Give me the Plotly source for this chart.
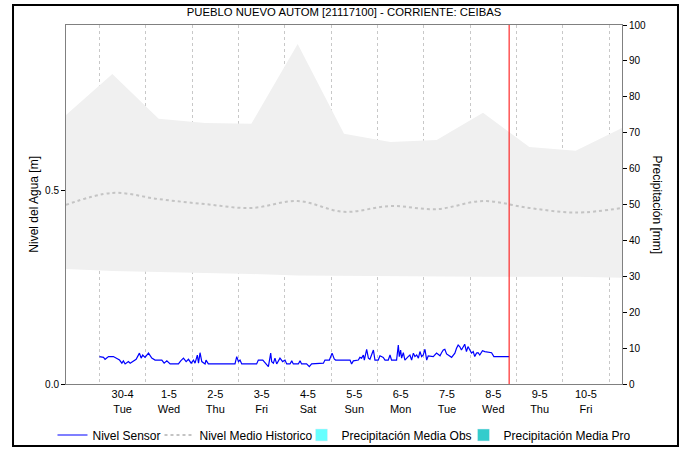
import pandas as pd
import plotly.graph_objects as go

title = "PUEBLO NUEVO AUTOM [21117100] - CORRIENTE: CEIBAS"

# Historical band / mean (daily, 06:40)
hist_dates = pd.date_range("2024-04-29 06:40", "2024-05-11 06:40", freq="D")
hist_max = [0.697, 0.803, 0.687, 0.676, 0.674, 0.881, 0.648, 0.627, 0.632, 0.703, 0.614, 0.604, 0.663]
hist_min = [0.298, 0.293, 0.290, 0.288, 0.285, 0.281, 0.280, 0.279, 0.278, 0.278, 0.278, 0.278, 0.275]
hist_mean = [0.464, 0.495, 0.479, 0.466, 0.456, 0.474, 0.446, 0.461, 0.453, 0.474, 0.456, 0.444, 0.456]

# Sensor level: hours after 2024-04-30 00:00, level in m
sensor_start = pd.Timestamp("2024-04-30 00:00")
sensor_hours = [0.0, 2.1, 2.9, 4.7, 7.2, 9.0, 10.4, 11.6, 12.4, 13.3, 15.0, 15.9, 17.9, 19.0, 20.7,
                21.6, 22.4, 23.6, 25.4, 27.1, 28.8, 32.3, 33.5, 34.9, 36.6, 40.9, 42.1, 43.5, 44.9,
                46.1, 47.5, 48.7, 49.5, 50.7, 51.3, 52.1, 53.0, 54.7, 55.2, 56.4, 70.2, 71.1, 72.0,
                72.8, 73.7, 81.4, 82.3, 84.6, 87.5, 88.7, 89.2, 90.1, 90.9, 91.8, 93.5, 94.9, 96.1,
                97.0, 98.7, 99.6, 100.4, 103.0, 103.9, 104.7, 107.3, 108.7, 109.9, 116.0, 116.8,
                119.1, 120.5, 121.6, 122.3, 129.8, 130.6, 131.5, 134.1, 134.9, 135.8, 136.7, 137.2,
                138.4, 139.3, 140.1, 141.9, 142.7, 144.4, 145.3, 147.0, 147.9, 149.6, 150.5, 151.3,
                153.9, 154.8, 155.3, 156.0, 156.5, 157.4, 158.2, 159.9, 160.8, 161.7, 162.6, 163.4,
                164.3, 165.2, 166.0, 166.9, 167.7, 168.6, 169.5, 170.3, 172.9, 174.6, 176.4, 177.2,
                178.1, 178.9, 179.8, 182.4, 184.1, 184.9, 185.8, 186.6, 187.5, 189.2, 190.1, 190.9,
                192.7, 193.6, 194.4, 195.3, 196.1, 197.0, 198.4, 199.6, 203.1, 204.3, 212.2]
sensor_level = [0.071, 0.069, 0.064, 0.071, 0.071, 0.067, 0.062, 0.054, 0.060, 0.052, 0.058, 0.054, 0.060, 0.064, 0.080,
                0.067, 0.075, 0.069, 0.080, 0.067, 0.062, 0.062, 0.054, 0.060, 0.052, 0.052, 0.060, 0.067, 0.058,
                0.064, 0.054, 0.062, 0.054, 0.075, 0.054, 0.081, 0.058, 0.052, 0.062, 0.052, 0.052, 0.071, 0.058,
                0.062, 0.052, 0.052, 0.062, 0.062, 0.045, 0.080, 0.058, 0.054, 0.067, 0.052, 0.067, 0.058, 0.062,
                0.052, 0.052, 0.060, 0.052, 0.052, 0.060, 0.052, 0.052, 0.045, 0.052, 0.054, 0.062,
                0.062, 0.080, 0.065, 0.062, 0.062, 0.052, 0.060, 0.062, 0.069, 0.067, 0.075, 0.062,
                0.090, 0.067, 0.064, 0.088, 0.062, 0.062, 0.073, 0.069, 0.062, 0.062, 0.075, 0.062,
                0.062, 0.101, 0.071, 0.088, 0.067, 0.081, 0.062, 0.071, 0.075, 0.062, 0.080, 0.071,
                0.075, 0.067, 0.084, 0.071, 0.075, 0.090, 0.062, 0.073, 0.071, 0.080, 0.073, 0.081,
                0.088, 0.090, 0.078, 0.069, 0.080, 0.092, 0.101, 0.097, 0.088, 0.103, 0.084, 0.097,
                0.080, 0.084, 0.071, 0.080, 0.081, 0.075, 0.086, 0.084, 0.081, 0.071, 0.071]
sensor_time = [sensor_start + pd.Timedelta(hours=h) for h in sensor_hours]

current_time = pd.Timestamp("2024-05-08 20:12")
x_range = ["2024-04-29 06:40", "2024-05-11 06:40"]

day_labels = ["30-4", "1-5", "2-5", "3-5", "4-5", "5-5", "6-5", "7-5", "8-5", "9-5", "10-5"]
day_names = ["Tue", "Wed", "Thu", "Fri", "Sat", "Sun", "Mon", "Tue", "Wed", "Thu", "Fri"]
label_pos = pd.date_range("2024-04-30 12:00", periods=len(day_labels), freq="D")
midnights = pd.date_range("2024-04-30 00:00", "2024-05-11 00:00", freq="D")

fig = go.Figure()
fig.add_trace(go.Scatter(x=hist_dates, y=hist_min, mode="lines", line=dict(width=0, color="#f0f0f0"),
                         showlegend=False, hoverinfo="skip"))
fig.add_trace(go.Scatter(x=hist_dates, y=hist_max, mode="lines", line=dict(width=0, color="#f0f0f0"),
                         fill="tonexty", fillcolor="#f0f0f0", showlegend=False, hoverinfo="skip"))
fig.add_trace(go.Scatter(x=sensor_time, y=sensor_level, mode="lines", name="Nivel Sensor",
                         line=dict(color="#0000ff", width=1.2), legendwidth=62))
fig.add_trace(go.Scatter(x=hist_dates, y=hist_mean, mode="lines", name="Nivel Medio Historico",
                         line=dict(color="#c4c4c4", width=2, dash="dot", shape="spline"), legendwidth=97))
fig.add_trace(go.Bar(x=[None], y=[None], name="Precipitación Media Obs", marker_color="#66ffff",
                     yaxis="y2", legendwidth=117))
fig.add_trace(go.Bar(x=[None], y=[None], name="Precipitación Media Pro", marker_color="#33cccc",
                     yaxis="y2", legendwidth=122))

fig.add_shape(type="line", xref="x", yref="paper", x0=current_time, x1=current_time, y0=0, y1=1,
              line=dict(color="#ff0000", width=1))
fig.add_shape(type="rect", xref="paper", yref="paper", x0=-0.0953, x1=1.1007, y0=-0.1727, y1=1.0557,
              line=dict(color="#000000", width=2), layer="above")

fig.update_layout(
    width=684, height=449,
    margin=dict(l=66, r=62, t=25, b=65, autoexpand=False),
    paper_bgcolor="white", plot_bgcolor="white",
    font=dict(family="Liberation Sans, Arial, sans-serif", size=10, color="#000000"),
    title=dict(text=title, x=0.5, xref="paper", xanchor="center", y=1 - 12 / 449, yanchor="middle",
               font=dict(size=11.3)),
    showlegend=True,
    legend=dict(orientation="h", x=-0.0243, xanchor="left", y=-0.142, yanchor="middle",
                traceorder="normal", font=dict(size=12), bgcolor="rgba(0,0,0,0)",
                itemwidth=30, tracegroupgap=0),
    xaxis=dict(type="date", range=x_range, tickmode="array", tickvals=label_pos,
               ticktext=[f"{a}<br>{b}" for a, b in zip(day_labels, day_names)],
               showgrid=False, ticks="", showline=True, linecolor="#808080", mirror=True,
               zeroline=False, tickfont=dict(size=11),
               minor=dict(tickmode="array", tickvals=midnights, showgrid=True,
                          gridcolor="#c8c8c8", griddash="dot", gridwidth=1, ticks="")),
    yaxis=dict(range=[0, 0.93], tickvals=[0.0, 0.5], tickformat=".1f", ticks="outside", ticklen=4,
               tickcolor="#000000", showline=True, linecolor="#808080", showgrid=True,
               gridcolor="#c8c8c8", griddash="dot", zeroline=False, title=dict(text="")),
    yaxis2=dict(range=[0, 100], dtick=10, overlaying="y", side="right", ticks="outside", ticklen=4,
                tickcolor="#000000", showline=True, linecolor="#808080", showgrid=False, zeroline=False),
    bargap=0,
)

fig.add_annotation(text="Nivel del Agua [m]", xref="paper", yref="paper", x=-0.059, y=0.5,
                   xanchor="center", yanchor="middle", textangle=-90, showarrow=False,
                   font=dict(size=12))
fig.add_annotation(text="Precipitación [mm]", xref="paper", yref="paper", x=1.063, y=0.5,
                   xanchor="center", yanchor="middle", textangle=90, showarrow=False,
                   font=dict(size=12))

fig.write_html("out.html", config={"displayModeBar": False},
               post_script="document.body.style.margin='0px';")
